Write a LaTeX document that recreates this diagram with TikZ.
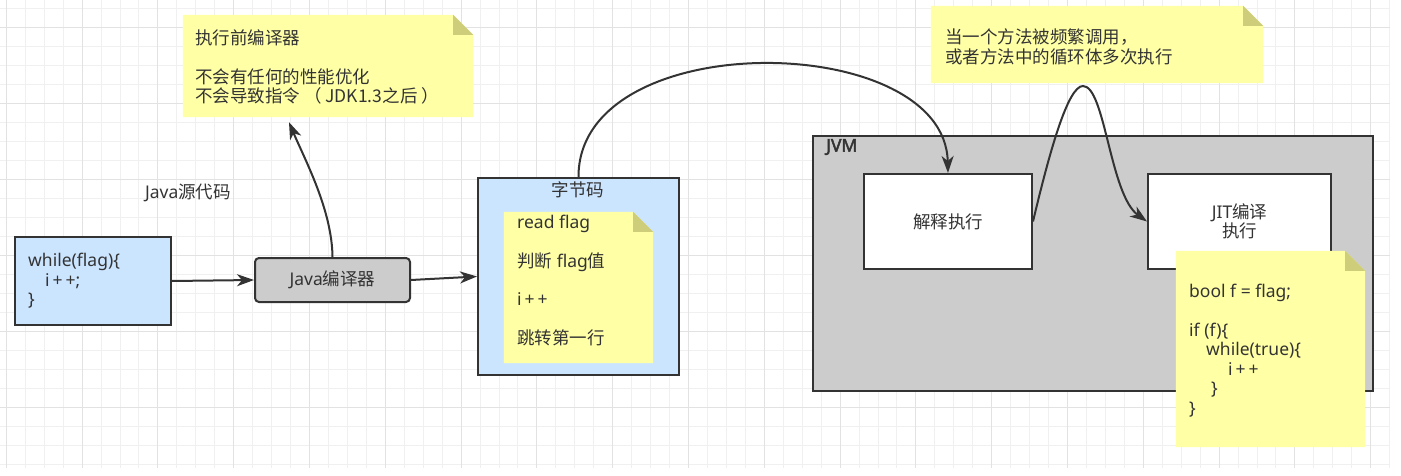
\documentclass[tikz,border=0pt]{standalone}
\usepackage{fontspec}
\setmainfont{Noto Sans}
\newfontfamily\zhfont{Noto Sans CJK SC}
\newfontfamily\jvmfont{Noto Sans}[FakeBold=2.5]
\newcommand\zh[1]{{\zhfont #1}}
\usetikzlibrary{arrows.meta,calc}
\definecolor{ink}{HTML}{333333}
\definecolor{bluefill}{HTML}{CCE5FF}
\definecolor{grayfill}{HTML}{CCCCCC}
\definecolor{notefill}{HTML}{FFFFA6}
\definecolor{foldfill}{HTML}{CDCD7A}
\definecolor{gridminor}{HTML}{F0F0F0}
\definecolor{gridmajor}{HTML}{E2E2E2}
\newcommand\dogear[1]{%
  \fill[notefill] (#1.south west) -- (#1.north west) -- ([xshift=-20pt]#1.north east)
    -- ([yshift=-20pt]#1.north east) -- (#1.south east) -- cycle;
  \fill[foldfill] ([xshift=-20pt]#1.north east) -- ([xshift=-20pt,yshift=-20pt]#1.north east)
    -- ([yshift=-20pt]#1.north east) -- cycle;}
\begin{document}
\begin{tikzpicture}[x=1pt,y=-1pt,
  txt/.style={font=\fontsize{17.5}{19.5}\selectfont, text=ink, inner sep=0pt},
  box/.style={draw=ink, line width=2pt, inner sep=0pt},
  notebase/.style={inner sep=0pt, draw=none},
  conn/.style={draw=ink, line width=2pt, -{Stealth[length=17pt,width=12pt,inset=5pt]}},
]
\useasboundingbox (0,0) rectangle (1401,476);
\fill[white] (0,0) rectangle (1401,476);
% grid
\foreach \i in {0,...,73} \draw[gridminor, line width=1pt] ({6.3+18.95*\i},0) -- ({6.3+18.95*\i},468);
\foreach \j in {0,...,24} \draw[gridminor, line width=1pt] (0,{8.7+19*\j}) -- (1390,{8.7+19*\j});
\foreach \i in {0,4,...,72} \draw[gridmajor, line width=1pt] ({6.3+18.95*\i},0) -- ({6.3+18.95*\i},468);
\foreach \j in {1,5,...,21} \draw[gridmajor, line width=1pt] (0,{8.7+19*\j}) -- (1390,{8.7+19*\j});

% top-left note
\node[notebase, minimum width=290pt, minimum height=102pt] (n1) at (328,66) {};
\dogear{n1}
\node[txt, align=left, anchor=west] (n1t) at (195,67)
  {\zh{执行前编译器}\\[19.5pt]\zh{不会有任何的性能优化}\\\zh{不会导致指令 （ JDK1.3之后 ）}};

% top-right note
\node[notebase, minimum width=332pt, minimum height=77pt] (n2) at (1097,44.5) {};
\dogear{n2}
\node[txt, align=left, anchor=west] (n2t) at (945,47)
  {\zh{当一个方法被频繁调用，}\\\zh{或者方法中的循环体多次执行}};

% label
\node[txt] (srclabel) at (188,193) {Java\zh{源代码}};

% source box
\node[box, fill=bluefill, minimum width=156pt, minimum height=88pt] (src) at (93,281) {};
\node[txt, align=left, anchor=west] (srct) at (28,281)
  {while(flag)\{\\\hspace*{17pt}i\,+\,+;\\\}};

% java compiler
\node[box, txt, fill=grayfill, rounded corners=4pt, minimum width=155pt, minimum height=44pt] (jc) at (332.5,280) {Java\zh{编译器}};

% bytecode box
\node[box, fill=bluefill, minimum width=201pt, minimum height=197pt] (bc) at (578.5,276.5) {};
\node[txt] (bctitle) at (578,190) {\zh{字节码}};
\node[notebase, minimum width=149pt, minimum height=151pt] (bcn) at (578.5,287.5) {};
\dogear{bcn}
\node[txt, align=left, anchor=west, font=\fontsize{17.5}{38.5}\selectfont] (bcnt) at (517,280.5)
  {read flag\\\zh{判断} flag\zh{值}\\i\,+\,+\\\zh{跳转第一行}};

% JVM
\node[box, fill=grayfill, minimum width=560pt, minimum height=255pt] (jvm) at (1093,263.5) {};
\node[txt, font=\jvmfont\fontsize{17.5}{19.5}\selectfont, anchor=west] (jvmlabel) at (826,147) {JVM};
\node[box, txt, fill=white, minimum width=168pt, minimum height=95pt] (interp) at (948,221.5) {\zh{解释执行}};
\node[box, txt, fill=white, align=center, minimum width=183pt, minimum height=95pt] (jit) at (1239.5,221.5) {JIT\zh{编译}\\\zh{执行}};

% code note
\node[notebase, minimum width=189pt, minimum height=196pt] (n3) at (1270.5,349) {};
\dogear{n3}
\node[txt, align=left, anchor=west] (n3t) at (1189,350.5)
  {bool f = flag;\\[19.5pt]if (f)\{\\\hspace*{17pt}while(true)\{\\\hspace*{39pt}i\,+\,+\\\hspace*{22pt}\}\\\}};

% connectors
\draw[conn] (src.east) -- (jc.west);
\draw[conn] (jc.north) .. controls (332,210) and (305,160) .. ($(n1.south)+(-39,5)$);
\draw[conn] (jc.east) -- (bc.west);
\draw[conn] (bc.north) .. controls (578,25) and (945,30) .. (interp.north);
\draw[conn] (interp.east) .. controls (1050,150) and (1068,86) .. (1083,86)
  .. controls (1105,86) and (1110,195) .. (jit.west);
\end{tikzpicture}
\end{document}
